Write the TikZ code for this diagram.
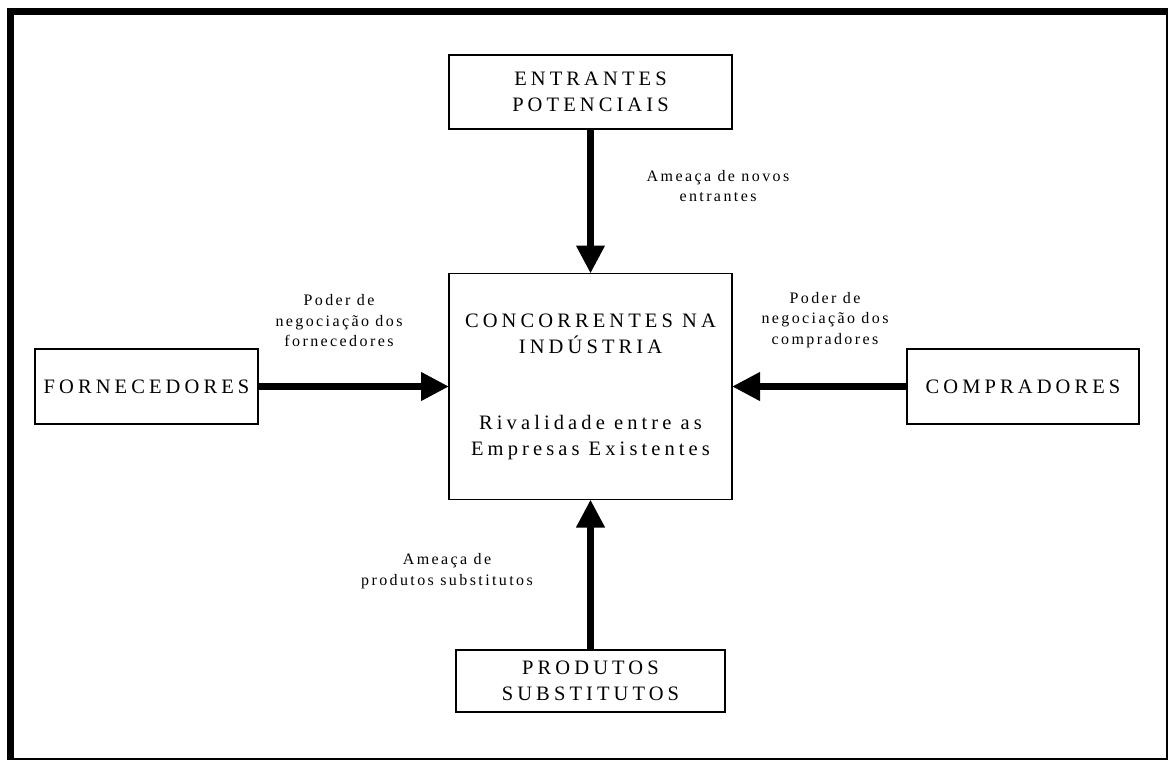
\documentclass[tikz,border=0pt]{standalone}
\usepackage{fontspec}
\setmainfont{Liberation Serif}[LetterSpace=20]
\usetikzlibrary{arrows.meta}

\begin{document}
\begin{tikzpicture}[x=1pt,y=-1pt,
  box/.style={draw,line width=1.3pt,inner sep=0pt,outer sep=0pt,align=center,font=\fontsize{20.5}{26}\selectfont},
  force/.style={line width=7pt,-{Triangle[length=28pt,width=27pt]}},
  note/.style={align=center,font=\fontsize{16}{20.5}\selectfont\addfontfeature{LetterSpace=15}}]
\useasboundingbox (0,0) rectangle (1169,761);
\draw[line width=2pt] (10,11) rectangle (1167,759);
\draw[line width=7pt] (10,760) -- (10,11.5) -- (1168,11.5);
\node[box,minimum width=283pt,minimum height=74pt] at (590.5,92) (entrantes) {ENTRANTES\\POTENCIAIS};
\node[box,minimum width=283pt,minimum height=226pt] at (590.5,386.5) (concorrentes) {CONCORRENTES NA\\IND\'USTRIA\\[50pt]Rivalidade entre as\\Empresas Existentes};
\node[box,minimum width=223pt,minimum height=75pt] at (146.5,386.5) (fornecedores) {FORNECEDORES};
\node[box,minimum width=232pt,minimum height=75pt] at (1023,386.5) (compradores) {COMPRADORES};
\node[box,minimum width=269pt,minimum height=62pt] at (590.5,681) (produtos) {PRODUTOS\\SUBSTITUTOS};
\node[note] at (718,186) (novos) {Ameaça de novos\\entrantes};
\node[note] at (339,321) (podforn) {Poder de\\negociação dos\\fornecedores};
\node[note] at (825,320) (podcomp) {Poder de\\negociação dos\\compradores};
\node[note] at (447,571) (substit) {Ameaça de\\produtos substitutos};
\draw[force] (entrantes) -- (concorrentes);
\draw[force] (fornecedores) -- (concorrentes);
\draw[force] (compradores) -- (concorrentes);
\draw[force] (produtos) -- (concorrentes);
\end{tikzpicture}
\end{document}
